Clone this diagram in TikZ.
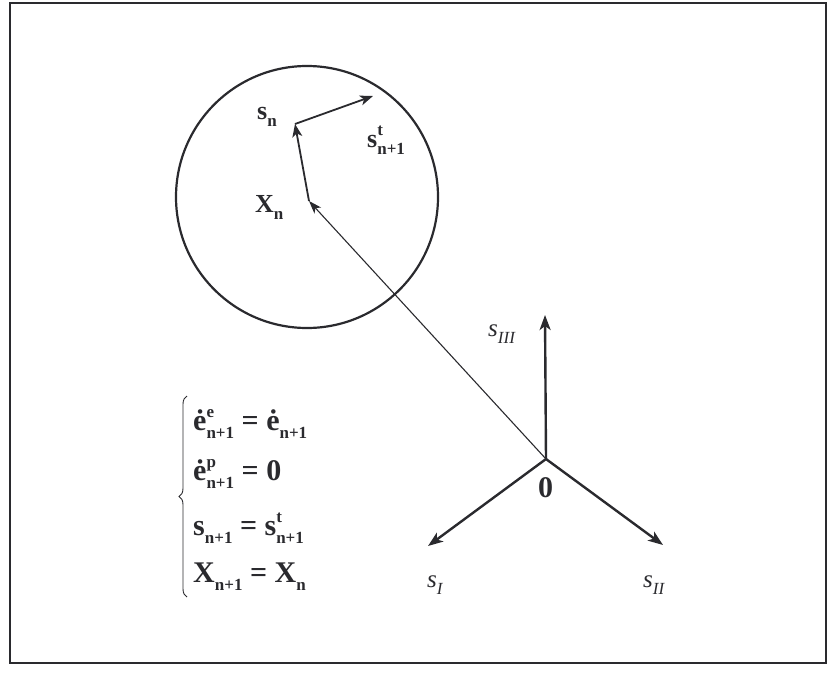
\documentclass[tikz,border=0pt]{standalone}
\usepackage{fontspec}
\setmainfont{Liberation Serif}
\usetikzlibrary{arrows.meta,decorations.pathreplacing}
\definecolor{ink}{HTML}{2A2A2E}
\newcommand\lowsub[2][8pt]{\raisebox{-#1}{\fontsize{17}{17}\selectfont #2}}
\newcommand\subsup[3][8pt]{\makebox[0pt][l]{\raisebox{13pt}{\fontsize{17}{17}\selectfont #2}}\raisebox{-#1}{\fontsize{17}{17}\selectfont #3}}
\tikzset{
  axis/.style={draw=ink, line width=2.4pt, -{Stealth[length=15pt,width=11pt,inset=4pt]}},
  vec/.style={draw=ink, line width=1.8pt, -{Stealth[length=13pt,width=10pt,inset=3.5pt]}},
  thin/.style={draw=ink, line width=1.1pt, -{Stealth[length=13pt,width=9pt,inset=3.5pt]}},
  lbl/.style={inner sep=0pt, anchor=base west, text=ink, font=\bfseries\fontsize{26}{30}\selectfont},
  eq/.style={inner sep=0pt, anchor=base west, text=ink, font=\bfseries\fontsize{30}{34}\selectfont},
  ax/.style={inner sep=0pt, anchor=base west, text=ink, font=\itshape\fontsize{25}{30}\selectfont}
}
\begin{document}
\begin{tikzpicture}[x=1pt,y=-1pt]
\useasboundingbox (0,0) rectangle (834,679);
\draw[ink, line width=2pt] (9.5,3) rectangle (826,663);
% circle
\node[draw=ink, line width=2.2pt, circle, minimum size=262pt, inner sep=0pt] (C) at (307,197) {};
% points
\coordinate (O) at (546,459);
\coordinate (X) at (309,201);
\coordinate (S) at (295,124);
\coordinate (T) at (373,96);
\coordinate (A3) at (545,315);
\coordinate (A1) at (428,546);
\coordinate (A2) at (663,545);
% axes
\draw[axis] (O) -- (A3);
\draw[axis] (O) -- (A1);
\draw[axis] (O) -- (A2);
% vectors
\draw[thin] (O) -- (X);
\draw[vec] (X) -- (S);
\draw[vec] (S) -- (T);
% labels
\node[lbl] (ls) at (257,120) {s\lowsub[7pt]{n}};
\node[lbl] (lt) at (367,148) {s\subsup[7pt]{t}{n+1}};
\node[lbl] (lx) at (255,212) {X\lowsub[7pt]{n}};
\node[eq] (l0) at (538,497) {0};
\node[ax] (l3) at (488,336) {s\lowsub[7pt]{III}};
\node[ax] (l1) at (427,587) {s\lowsub[7pt]{I}};
\node[ax] (l2) at (643,587) {s\lowsub[7pt]{II}};
% equations
\node[eq] (e1) at (193,430) {ė\subsup{e}{n+1} = ė\lowsub{n+1}};
\node[eq] (e2) at (193,480) {ė\subsup{p}{n+1} = 0};
\node[eq] (e3) at (193,535) {s\lowsub{n+1} = s\subsup{t}{n+1}};
\node[eq] (e4) at (193,582) {X\lowsub{n+1} = X\lowsub{n}};
\draw[ink, line width=0.9pt, decorate, decoration={brace, amplitude=8pt}] (187,597) -- (187,396);
\end{tikzpicture}
\end{document}
